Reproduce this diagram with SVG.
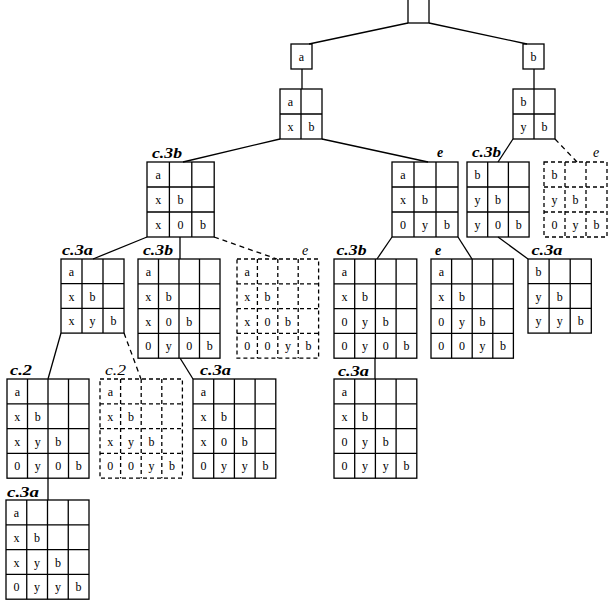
<svg xmlns="http://www.w3.org/2000/svg" width="609" height="607" viewBox="0 0 609 607">
<style>
.g rect,.g path{fill:none;stroke:#000;stroke-width:1.3}
.d rect,.d path{stroke-dasharray:4 3}
.g text{font-family:"Liberation Serif",serif;font-size:12px;text-anchor:middle;fill:#000}
.g text.lb{font-style:italic;font-weight:bold;font-size:14px;text-anchor:start}
.g text.ld{font-style:italic;font-size:14px;text-anchor:start}
.c line{stroke:#000;stroke-width:1.3}
.c line.k{stroke-dasharray:5 4}
</style>
<rect width="609" height="607" fill="#fff"/>
<g class="c">
<line x1="408" y1="23" x2="309" y2="44"/>
<line x1="429" y1="23" x2="527" y2="44"/>
<line x1="302" y1="69" x2="302" y2="89"/>
<line x1="534" y1="69" x2="534" y2="89"/>
<line x1="280" y1="139" x2="183" y2="162"/>
<line x1="322" y1="139" x2="428" y2="162"/>
<line x1="513" y1="139" x2="498" y2="162"/>
<line class="k" x1="555" y1="139" x2="577" y2="162"/>
<line x1="147" y1="237" x2="93" y2="259"/>
<line x1="180" y1="237" x2="180" y2="259"/>
<line class="k" x1="214" y1="237" x2="277" y2="259"/>
<line x1="392" y1="237" x2="377" y2="259"/>
<line x1="458" y1="237" x2="472" y2="259"/>
<line x1="498" y1="237" x2="528" y2="259"/>
<line x1="61" y1="333" x2="48" y2="379"/>
<line class="k" x1="124" y1="333" x2="141" y2="379"/>
<line x1="180" y1="358" x2="193" y2="379"/>
<line x1="375" y1="358" x2="375" y2="379"/>
<line x1="48" y1="478" x2="48" y2="500"/>
</g>
<g id="root" class="g"><rect x="408" y="-2" width="21" height="25"/></g>
<g id="na" class="g"><rect x="291" y="44" width="21" height="25"/><text x="301.5" y="61">a</text></g>
<g id="nb" class="g"><rect x="523" y="44" width="21" height="25"/><text x="533.5" y="61">b</text></g>
<g id="g1" class="g"><rect x="280" y="89" width="42" height="50"/><path d="M301 89V139M280 114H322"/>
<text x="290.5" y="106">a</text><text x="290.5" y="131">x</text><text x="311.5" y="131">b</text></g>
<g id="g2" class="g"><rect x="513" y="89" width="42" height="50"/><path d="M534 89V139M513 114H555"/>
<text x="523.5" y="106">b</text><text x="523.5" y="131">y</text><text x="544.5" y="131">b</text></g>
<g id="c3b-l3" class="g"><text class="lb" x="152" y="157.5" textLength="30" lengthAdjust="spacingAndGlyphs">c.3b</text>
<rect x="147" y="162" width="67.2" height="75"/><path d="M169.4 162V237M191.8 162V237M147 187H214.2M147 212H214.2"/>
<text x="158.2" y="179">a</text><text x="158.2" y="204">x</text><text x="180.6" y="204">b</text><text x="158.2" y="229">x</text><text x="180.6" y="229">0</text><text x="203" y="229">b</text></g>
<g id="e-l3" class="g"><text class="lb" x="437" y="157">e</text>
<rect x="392" y="162" width="66" height="75"/><path d="M414 162V237M436 162V237M392 187H458M392 212H458"/>
<text x="403" y="179">a</text><text x="403" y="204">x</text><text x="425" y="204">b</text><text x="403" y="229">0</text><text x="425" y="229">y</text><text x="447" y="229">b</text></g>
<g id="c3b-r3" class="g"><text class="lb" x="472" y="157" textLength="29" lengthAdjust="spacingAndGlyphs">c.3b</text>
<rect x="467" y="162" width="62.1" height="75"/><path d="M487.7 162V237M508.4 162V237M467 187H529.1M467 212H529.1"/>
<text x="477.4" y="179">b</text><text x="477.4" y="204">y</text><text x="498" y="204">b</text><text x="477.4" y="229">y</text><text x="498" y="229">0</text><text x="518.8" y="229">b</text></g>
<g id="e-d3" class="g d"><text class="ld" x="593" y="157">e</text>
<rect x="544" y="162" width="63" height="75"/><path d="M565 162V237M586 162V237M544 187H607M544 212H607"/>
<text x="554.5" y="179">b</text><text x="554.5" y="204">y</text><text x="575.5" y="204">b</text><text x="554.5" y="229">0</text><text x="575.5" y="229">y</text><text x="596.5" y="229">b</text></g>
<g id="c3a-l4" class="g"><text class="lb" x="62" y="255" textLength="31" lengthAdjust="spacingAndGlyphs">c.3a</text>
<rect x="61" y="259" width="63" height="74.1"/><path d="M82 259V333.1M103 259V333.1M61 283.7H124M61 308.4H124"/>
<text x="71.5" y="276">a</text><text x="71.5" y="300.5">x</text><text x="92.5" y="300.5">b</text><text x="71.5" y="325">x</text><text x="92.5" y="325">y</text><text x="113.5" y="325">b</text></g>
<g id="c3b-l4" class="g"><text class="lb" x="143" y="255" textLength="30" lengthAdjust="spacingAndGlyphs">c.3b</text>
<rect x="138" y="259" width="82" height="99.2"/><path d="M158.5 259V358.2M179 259V358.2M199.5 259V358.2M138 283.8H220M138 308.6H220M138 333.4H220"/>
<text x="148.3" y="276">a</text><text x="148.3" y="300.8">x</text><text x="168.8" y="300.8">b</text><text x="148.3" y="325.6">x</text><text x="168.8" y="325.6">0</text><text x="189.3" y="325.6">b</text><text x="148.3" y="350.4">0</text><text x="168.8" y="350.4">y</text><text x="189.3" y="350.4">0</text><text x="209.8" y="350.4">b</text></g>
<g id="e-d4" class="g d"><text class="ld" x="302" y="255">e</text>
<rect x="237" y="259" width="81.6" height="99.2"/><path d="M257.4 259V358.2M277.8 259V358.2M298.2 259V358.2M237 283.8H318.6M237 308.6H318.6M237 333.4H318.6"/>
<text x="247.2" y="276">a</text><text x="247.2" y="300.8">x</text><text x="267.6" y="300.8">b</text><text x="247.2" y="325.6">x</text><text x="267.6" y="325.6">0</text><text x="288" y="325.6">b</text><text x="247.2" y="350.4">0</text><text x="267.6" y="350.4">0</text><text x="288" y="350.4">y</text><text x="308.4" y="350.4">b</text></g>
<g id="c3b-r4" class="g"><text class="lb" x="336.5" y="255" textLength="30" lengthAdjust="spacingAndGlyphs">c.3b</text>
<rect x="334" y="259" width="82.8" height="99.2"/><path d="M354.7 259V358.2M375.4 259V358.2M396.1 259V358.2M334 283.8H416.8M334 308.6H416.8M334 333.4H416.8"/>
<text x="344.4" y="276">a</text><text x="344.4" y="300.8">x</text><text x="365.1" y="300.8">b</text><text x="344.4" y="325.6">0</text><text x="365.1" y="325.6">y</text><text x="385.8" y="325.6">b</text><text x="344.4" y="350.4">0</text><text x="365.1" y="350.4">y</text><text x="385.8" y="350.4">0</text><text x="406.5" y="350.4">b</text></g>
<g id="e-r4" class="g"><text class="lb" x="435" y="255">e</text>
<rect x="431" y="259" width="82.4" height="99.2"/><path d="M451.6 259V358.2M472.2 259V358.2M492.8 259V358.2M431 283.8H513.4M431 308.6H513.4M431 333.4H513.4"/>
<text x="441.3" y="276">a</text><text x="441.3" y="300.8">x</text><text x="461.9" y="300.8">b</text><text x="441.3" y="325.6">0</text><text x="461.9" y="325.6">y</text><text x="482.5" y="325.6">b</text><text x="441.3" y="350.4">0</text><text x="461.9" y="350.4">0</text><text x="482.5" y="350.4">y</text><text x="503.1" y="350.4">b</text></g>
<g id="c3a-r4" class="g"><text class="lb" x="531.5" y="255" textLength="31" lengthAdjust="spacingAndGlyphs">c.3a</text>
<rect x="528" y="259" width="63.3" height="74.1"/><path d="M549.1 259V333.1M570.2 259V333.1M528 283.7H591.3M528 308.4H591.3"/>
<text x="538.6" y="276">b</text><text x="538.6" y="300.5">y</text><text x="559.7" y="300.5">b</text><text x="538.6" y="325">y</text><text x="559.7" y="325">y</text><text x="580.8" y="325">b</text></g>
<g id="c2-l5" class="g"><text class="lb" x="10" y="375" textLength="22" lengthAdjust="spacingAndGlyphs">c.2</text>
<rect x="7" y="379" width="82" height="99.2"/><path d="M27.5 379V478.2M48 379V478.2M68.5 379V478.2M7 403.8H89M7 428.6H89M7 453.4H89"/>
<text x="17.3" y="396">a</text><text x="17.3" y="420.8">x</text><text x="37.8" y="420.8">b</text><text x="17.3" y="445.6">x</text><text x="37.8" y="445.6">y</text><text x="58.3" y="445.6">b</text><text x="17.3" y="470.4">0</text><text x="37.8" y="470.4">y</text><text x="58.3" y="470.4">0</text><text x="78.8" y="470.4">b</text></g>
<g id="c2-d5" class="g d"><text class="ld" x="105" y="375" textLength="21" lengthAdjust="spacingAndGlyphs">c.2</text>
<rect x="100" y="379" width="82.4" height="99.2"/><path d="M120.6 379V478.2M141.2 379V478.2M161.8 379V478.2M100 403.8H182.4M100 428.6H182.4M100 453.4H182.4"/>
<text x="110.3" y="396">a</text><text x="110.3" y="420.8">x</text><text x="130.9" y="420.8">b</text><text x="110.3" y="445.6">x</text><text x="130.9" y="445.6">y</text><text x="151.5" y="445.6">b</text><text x="110.3" y="470.4">0</text><text x="130.9" y="470.4">0</text><text x="151.5" y="470.4">y</text><text x="172.1" y="470.4">b</text></g>
<g id="c3a-m5" class="g"><text class="lb" x="200" y="375" textLength="31" lengthAdjust="spacingAndGlyphs">c.3a</text>
<rect x="193" y="379" width="82.8" height="99.2"/><path d="M213.7 379V478.2M234.4 379V478.2M255.1 379V478.2M193 403.8H275.8M193 428.6H275.8M193 453.4H275.8"/>
<text x="203.4" y="396">a</text><text x="203.4" y="420.8">x</text><text x="224.1" y="420.8">b</text><text x="203.4" y="445.6">x</text><text x="224.1" y="445.6">0</text><text x="244.8" y="445.6">b</text><text x="203.4" y="470.4">0</text><text x="224.1" y="470.4">y</text><text x="244.8" y="470.4">y</text><text x="265.5" y="470.4">b</text></g>
<g id="c3a-r5" class="g"><text class="lb" x="338" y="375.5" textLength="31" lengthAdjust="spacingAndGlyphs">c.3a</text>
<rect x="334" y="379" width="82.8" height="99.2"/><path d="M354.7 379V478.2M375.4 379V478.2M396.1 379V478.2M334 403.8H416.8M334 428.6H416.8M334 453.4H416.8"/>
<text x="344.4" y="396">a</text><text x="344.4" y="420.8">x</text><text x="365.1" y="420.8">b</text><text x="344.4" y="445.6">0</text><text x="365.1" y="445.6">y</text><text x="385.8" y="445.6">b</text><text x="344.4" y="470.4">0</text><text x="365.1" y="470.4">y</text><text x="385.8" y="470.4">y</text><text x="406.5" y="470.4">b</text></g>
<g id="c3a-l6" class="g"><text class="lb" x="7" y="496.5" textLength="32" lengthAdjust="spacingAndGlyphs">c.3a</text>
<rect x="6" y="500" width="83" height="99.2"/><path d="M26.75 500V599.2M47.5 500V599.2M68.25 500V599.2M6 524.8H89M6 549.6H89M6 574.4H89"/>
<text x="16.4" y="517">a</text><text x="16.4" y="541.8">x</text><text x="37.1" y="541.8">b</text><text x="16.4" y="566.6">x</text><text x="37.1" y="566.6">y</text><text x="57.9" y="566.6">b</text><text x="16.4" y="591.4">0</text><text x="37.1" y="591.4">y</text><text x="57.9" y="591.4">y</text><text x="78.6" y="591.4">b</text></g>
</svg>
